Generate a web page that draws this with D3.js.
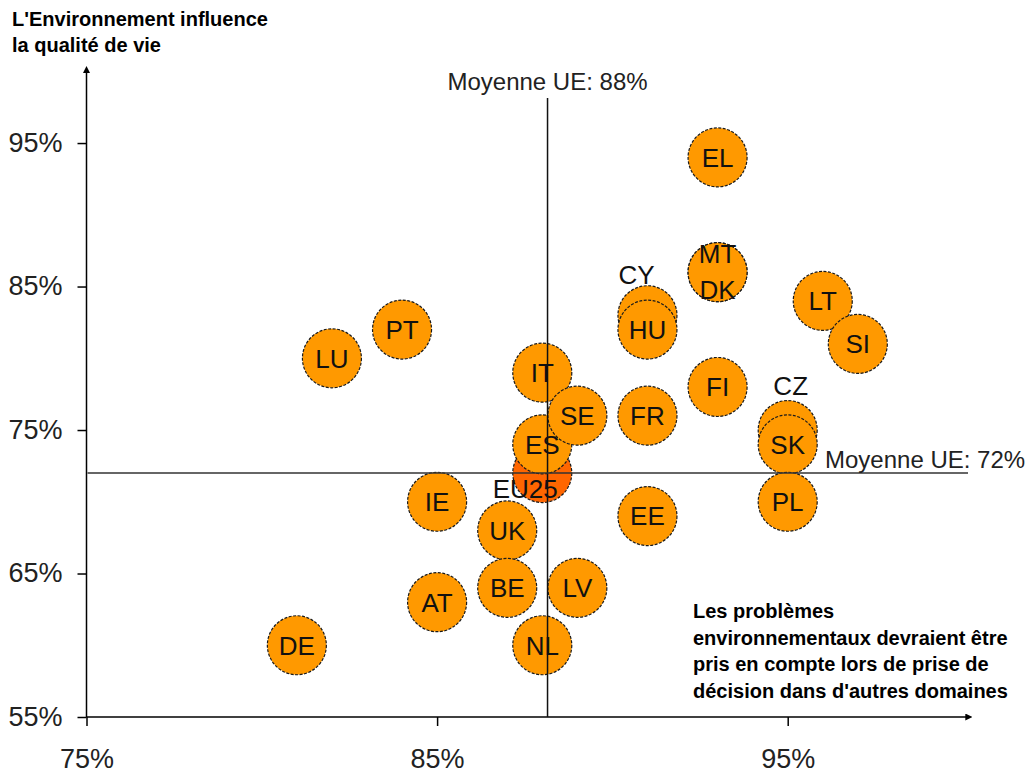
<!DOCTYPE html>
<html>
<head>
<meta charset="utf-8">
<script src="https://cdn.jsdelivr.net/npm/d3@7"></script>
<style>
  body { margin: 0; background: #fff; }
  svg text { font-family: "Liberation Sans", Arial, sans-serif; }
  .title { font-weight: bold; font-size: 20px; fill: #000; }
  .tick text { font-size: 27px; fill: #222; }
  .tick line { stroke: #000; stroke-width: 1.5; }
  .country { font-size: 26px; fill: #111; text-anchor: middle; }
  .avg-label { font-size: 24px; fill: #222; }
</style>
</head>
<body>
<div id="root"></div>
<script>
// Data
const countries = ['EU25', 'DE', 'LU', 'PT', 'IE', 'AT', 'UK', 'BE', 'NL', 'IT', 'ES', 'SE', 'LV',
  'FR', 'EE', 'CY', 'HU', 'FI', 'EL', 'MT', 'DK', 'CZ', 'SK', 'PL', 'LT', 'SI'];
// x: Les problèmes environnementaux devraient être pris en compte...
const decisionShare = [88, 81, 82, 84, 85, 85, 87, 87, 88, 88, 88, 89, 89,
  91, 91, 91, 91, 93, 93, 93, 93, 95, 95, 95, 96, 97];
// y: L'Environnement influence la qualité de vie
const qualityShare = [72, 60, 80, 82, 70, 63, 68, 64, 60, 79, 74, 76, 64,
  76, 69, 83, 82, 78, 94, 86, 86, 75, 74, 70, 84, 81];
const xTicks = [75, 85, 95];
const yTicks = [55, 65, 75, 85, 95];
const avgX = 88.15;
const avgY = 72;
const avgXLabel = 'Moyenne UE: 88%';
const avgYLabel = 'Moyenne UE: 72%';
const yTitle = ["L'Environnement influence", 'la qualité de vie'];
const xTitle = ['Les problèmes', 'environnementaux devraient être',
  'pris en compte lors de prise de', "décision dans d'autres domaines"];

// Layout
const width = 1027;
const height = 773;
const radius = 29.5;

// Labels that were moved off the bubble centre
const labelShift = {
  CY: [-11, -41], CZ: [3, -44], MT: [0, -19], DK: [0, 17], EU25: [-17, 16]
};

const svg = d3.select('#root')
  .append('svg')
  .attr('width', width)
  .attr('height', height);

svg.append('defs').append('marker')
  .attr('id', 'arrow')
  .attr('viewBox', '0 0 10 10')
  .attr('refX', 1)
  .attr('refY', 5)
  .attr('markerWidth', 7)
  .attr('markerHeight', 7)
  .attr('markerUnits', 'userSpaceOnUse')
  .attr('orient', 'auto')
  .append('path')
  .attr('d', 'M0,0 L10,5 L0,10 z')
  .attr('fill', '#000');

const x = d3.scaleLinear().domain([75, 100]).range([86.5, 963]);
const y = d3.scaleLinear().domain([55, 100]).range([717, 71.3]);

const points = countries.map((c, i) => ({ id: c, x: decisionShare[i], y: qualityShare[i] }));

// Axes
const xAxis = svg.append('g')
  .attr('transform', `translate(0,${y(55)})`)
  .call(d3.axisBottom(x).tickValues(xTicks).tickSize(9).tickFormat(d => d + '%'));
xAxis.select('.domain').remove();
xAxis.selectAll('text').attr('y', 51).attr('dy', 0);

const yAxis = svg.append('g')
  .attr('transform', `translate(${x(75)},0)`)
  .call(d3.axisLeft(y).tickValues(yTicks).tickSize(9).tickFormat(d => d + '%'));
yAxis.select('.domain').remove();
yAxis.selectAll('text').attr('x', -24).attr('dy', '0.3em');

svg.append('line')
  .attr('x1', x(75)).attr('x2', x(100) + 3)
  .attr('y1', y(55)).attr('y2', y(55))
  .attr('stroke', '#000').attr('stroke-width', 1.5)
  .attr('marker-end', 'url(#arrow)');

svg.append('line')
  .attr('x1', x(75)).attr('x2', x(75))
  .attr('y1', y(55)).attr('y2', y(100) + 1)
  .attr('stroke', '#000').attr('stroke-width', 1.5)
  .attr('marker-end', 'url(#arrow)');

// Bubbles
svg.append('g')
  .selectAll('circle')
  .data(points)
  .join('circle')
  .attr('cx', d => x(d.x))
  .attr('cy', d => y(d.y))
  .attr('r', radius)
  .attr('fill', d => d.id === 'EU25' ? '#ff6600' : '#ff9900')
  .attr('stroke', '#1a1a1a')
  .attr('stroke-width', 1.2)
  .attr('stroke-dasharray', '3 1.5');

// Average lines
svg.append('line')
  .attr('x1', x(avgX)).attr('x2', x(avgX))
  .attr('y1', 98).attr('y2', y(55))
  .attr('stroke', '#111').attr('stroke-width', 1.5);

svg.append('line')
  .attr('x1', x(75) + 1).attr('x2', 968)
  .attr('y1', y(avgY)).attr('y2', y(avgY))
  .attr('stroke', '#333').attr('stroke-width', 1.5);

svg.append('text')
  .attr('class', 'avg-label')
  .attr('x', x(avgX))
  .attr('y', 90)
  .attr('text-anchor', 'middle')
  .text(avgXLabel);

svg.append('text')
  .attr('class', 'avg-label')
  .attr('x', 825)
  .attr('y', y(avgY) - 5)
  .text(avgYLabel);

// Country labels
svg.append('g')
  .selectAll('text')
  .data(points)
  .join('text')
  .attr('class', 'country')
  .attr('x', d => x(d.x) + (labelShift[d.id] ? labelShift[d.id][0] : 0))
  .attr('y', d => y(d.y) + (labelShift[d.id] ? labelShift[d.id][1] : 0))
  .attr('dy', '0.36em')
  .text(d => d.id);

// Axis titles
svg.append('text')
  .attr('class', 'title')
  .selectAll('tspan')
  .data(yTitle)
  .join('tspan')
  .attr('x', 12)
  .attr('y', (d, i) => 26 + i * 26)
  .text(d => d);

svg.append('text')
  .attr('class', 'title')
  .selectAll('tspan')
  .data(xTitle)
  .join('tspan')
  .attr('x', 693)
  .attr('y', (d, i) => 618 + i * 26.7)
  .text(d => d);
</script>
</body>
</html>
